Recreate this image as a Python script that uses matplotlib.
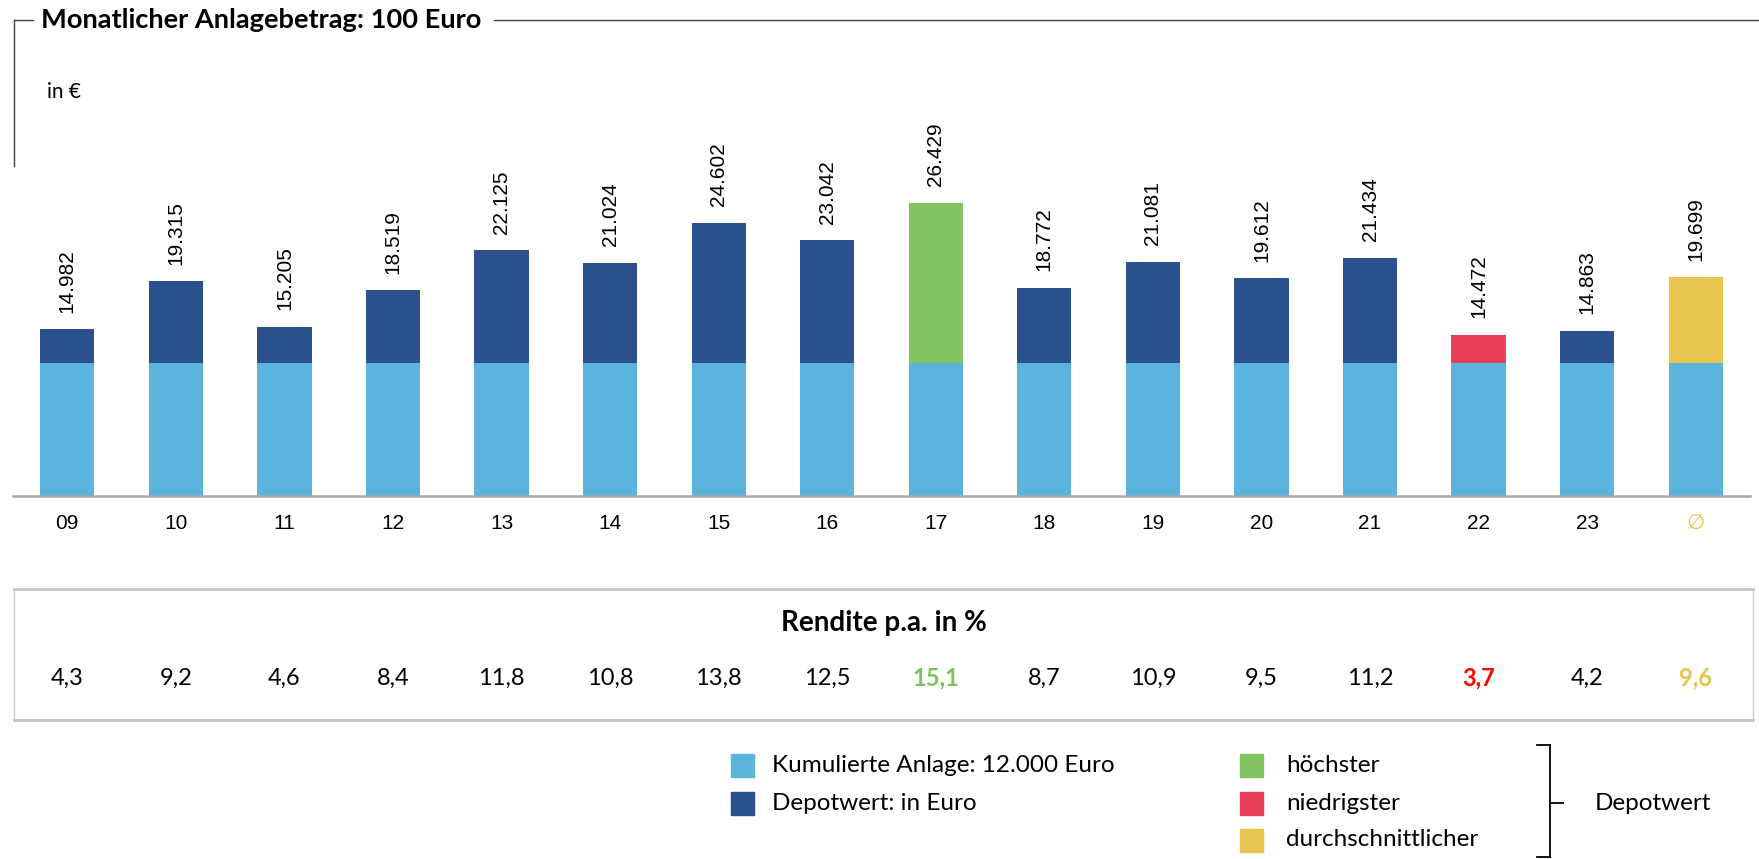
import matplotlib
matplotlib.use("Agg")
import matplotlib.pyplot as plt
from matplotlib.lines import Line2D
from matplotlib.patches import Rectangle

# ---------------- data ----------------
years = ["09", "10", "11", "12", "13", "14", "15", "16", "17", "18", "19", "20", "21", "22", "23", "\u2205"]
depot = [14982, 19315, 15205, 18519, 22125, 21024, 24602, 23042, 26429,
         18772, 21081, 19612, 21434, 14472, 14863, 19699]
invest = 12000
rendite = ["4,3", "9,2", "4,6", "8,4", "11,8", "10,8", "13,8", "12,5", "15,1",
           "8,7", "10,9", "9,5", "11,2", "3,7", "4,2", "9,6"]
highest_idx = 8
lowest_idx = 13
avg_idx = 15

# ---------------- style ----------------
C_INV = "#5BB4DC"
C_DEP = "#2B528F"
C_HI = "#82C462"
C_LO = "#E8405A"
C_AVG = "#E8C44E"
C_TXT_HI = "#7DC35B"
C_TXT_LO = "#FF0000"
LATO = ["Lato", "DejaVu Sans"]
ARIAL = ["Liberation Sans", "DejaVu Sans"]

W, H = 1759, 859
fig = plt.figure(figsize=(W / 100, H / 100), dpi=100)

def fx(px):
    return px / W

def fy(py):
    return 1 - py / H

ax_top_px, base_px = 163, 495.5
ax = fig.add_axes([fx(13), fy(base_px), fx(1750) - fx(13), (base_px - ax_top_px) / H])
px_per_k = 11.08
ax.set_ylim(0, (base_px - ax_top_px) / px_per_k * 1000)
ax.set_xlim(-0.5, len(years) - 0.5)

x = list(range(len(years)))
top_colors = []
for i in x:
    if i == highest_idx:
        top_colors.append(C_HI)
    elif i == lowest_idx:
        top_colors.append(C_LO)
    elif i == avg_idx:
        top_colors.append(C_AVG)
    else:
        top_colors.append(C_DEP)

ax.bar(x, [invest] * len(x), width=0.5, color=C_INV, edgecolor="none", zorder=2)
ax.bar(x, [d - invest for d in depot], bottom=invest, width=0.5, color=top_colors,
       edgecolor="none", zorder=2)

for i, d in zip(x, depot):
    ax.annotate(f"{d:,}".replace(",", "."), xy=(i, d), xytext=(0, 12),
                textcoords="offset points", rotation=90, ha="center", va="bottom",
                fontsize=15, family=ARIAL, color="black", annotation_clip=False)

for s in ["top", "right", "left"]:
    ax.spines[s].set_visible(False)
ax.spines["bottom"].set_color("#A6A6A6")
ax.spines["bottom"].set_linewidth(1.8)
ax.set_yticks([])
ax.set_xticks(x)
ax.set_xticklabels(years, fontsize=15, family=ARIAL)
ax.tick_params(axis="x", length=0, pad=13)
ax.get_xticklabels()[avg_idx].set_color(C_AVG)

# ---------------- title frame ----------------
frame_c = "#404040"
fig.add_artist(Line2D([fx(13.5), fx(33)], [fy(20), fy(20)], color=frame_c, lw=1))
fig.add_artist(Line2D([fx(494), fx(1759)], [fy(20), fy(20)], color=frame_c, lw=1))
fig.add_artist(Line2D([fx(13.5), fx(13.5)], [fy(20), fy(166)], color=frame_c, lw=1))
fig.text(fx(41), fy(20), "Monatlicher Anlagebetrag: 100 Euro", fontsize=19.6,
         fontweight="bold", family=LATO, va="center", ha="left")
fig.text(fx(47), fy(92), "in \u20ac", fontsize=15, family=LATO, va="center", ha="left")

# ---------------- Rendite box ----------------
box_l, box_r, box_t, box_b = 13.5, 1753, 589, 720
fig.add_artist(Line2D([fx(box_l), fx(box_r)], [fy(box_t), fy(box_t)], color="#BFC9C9", lw=2))
fig.add_artist(Line2D([fx(box_l), fx(box_r)], [fy(box_b), fy(box_b)], color="#BFC9C9", lw=2))
fig.add_artist(Line2D([fx(box_l), fx(box_l)], [fy(box_t), fy(box_b)], color="#C8CCCC", lw=1))
fig.add_artist(Line2D([fx(box_r), fx(box_r)], [fy(box_t), fy(box_b)], color="#C8CCCC", lw=1))
fig.text(fx(884), fy(623), "Rendite p.a. in %", fontsize=20, fontweight="bold",
         family=LATO, ha="center", va="center")

for i, r in zip(x, rendite):
    xf = ax.transData.transform((i, 0))[0] / W
    col, wt = "black", "normal"
    if i == highest_idx:
        col, wt = C_TXT_HI, "bold"
    elif i == lowest_idx:
        col, wt = C_TXT_LO, "bold"
    elif i == avg_idx:
        col, wt = C_AVG, "bold"
    fig.text(xf, fy(678), r, fontsize=17, family=LATO, color=col, fontweight=wt,
             ha="center", va="center")

# ---------------- legend ----------------
sq = 23
def square(cx, cy, color):
    fig.add_artist(Rectangle((fx(cx - sq / 2), fy(cy + sq / 2)), sq / W, sq / H,
                             transform=fig.transFigure, color=color))

legend_left = [(C_INV, "Kumulierte Anlage: 12.000 Euro", 765),
               (C_DEP, "Depotwert: in Euro", 803)]
for c, t, cy in legend_left:
    square(742, cy, c)
    fig.text(fx(772), fy(cy), t, fontsize=17.5, family=LATO, ha="left", va="center")

legend_right = [(C_HI, "h\u00f6chster", 765), (C_LO, "niedrigster", 803),
                (C_AVG, "durchschnittlicher", 840)]
for c, t, cy in legend_right:
    square(1251, cy, c)
    fig.text(fx(1286), fy(cy), t, fontsize=17.5, family=LATO, ha="left", va="center")

# bracket
bx = 1550
fig.add_artist(Line2D([fx(bx), fx(bx)], [fy(745), fy(857)], color="black", lw=1.3))
fig.add_artist(Line2D([fx(1537), fx(bx)], [fy(745), fy(745)], color="black", lw=1.3))
fig.add_artist(Line2D([fx(1537), fx(bx)], [fy(857), fy(857)], color="black", lw=1.3))
fig.add_artist(Line2D([fx(bx), fx(1563)], [fy(803), fy(803)], color="black", lw=1.3))
fig.text(fx(1595), fy(803), "Depotwert", fontsize=17.5, family=LATO, ha="left", va="center")

fig.savefig("out.png", dpi=100)
